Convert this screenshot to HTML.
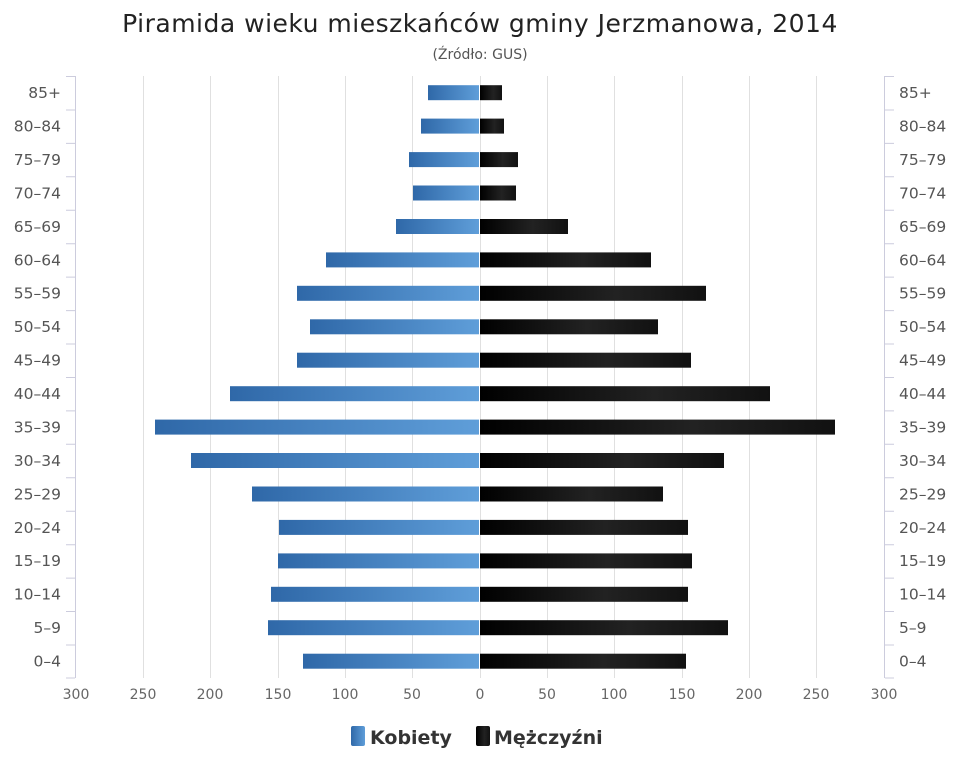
<!DOCTYPE html>
<html><head><meta charset="utf-8"><style>
body{margin:0;background:#fff;width:960px;height:768px;overflow:hidden}
text{font-family:"DejaVu Sans","Liberation Sans",sans-serif}
</style></head><body>
<svg width="960" height="768" viewBox="0 0 960 768" xmlns="http://www.w3.org/2000/svg">
<defs>
<linearGradient id="b" x1="0" y1="0" x2="1" y2="0"><stop offset="0" stop-color="#2f68a8"/><stop offset="1" stop-color="#5f9ed9"/></linearGradient>
<linearGradient id="k" x1="0" y1="0" x2="1" y2="0"><stop offset="0" stop-color="#000"/><stop offset="0.6" stop-color="#222"/><stop offset="1" stop-color="#111"/></linearGradient>
</defs>
<text x="480" y="32" text-anchor="middle" font-size="25" fill="#222" letter-spacing="0.5">Piramida wieku mieszkańców gminy Jerzmanowa, 2014</text>
<text x="480" y="59" text-anchor="middle" font-size="14" fill="#555">(Źródło: GUS)</text>
<g stroke="#e0e0e0" stroke-width="1">
<line x1="143.5" y1="76" x2="143.5" y2="678"/><line x1="210.5" y1="76" x2="210.5" y2="678"/><line x1="278.5" y1="76" x2="278.5" y2="678"/><line x1="345.5" y1="76" x2="345.5" y2="678"/><line x1="412.5" y1="76" x2="412.5" y2="678"/><line x1="480.5" y1="76" x2="480.5" y2="678"/><line x1="547.5" y1="76" x2="547.5" y2="678"/><line x1="614.5" y1="76" x2="614.5" y2="678"/><line x1="682.5" y1="76" x2="682.5" y2="678"/><line x1="749.5" y1="76" x2="749.5" y2="678"/><line x1="816.5" y1="76" x2="816.5" y2="678"/>
</g>
<g stroke="#ccd" stroke-width="1">
<line x1="75.5" y1="76" x2="75.5" y2="678"/><line x1="884.5" y1="76" x2="884.5" y2="678"/>
<path d="M66 76.5H75M66 110H75M66 143.4H75M66 176.8H75M66 210.3H75M66 243.7H75M66 277.1H75M66 310.6H75M66 344H75M66 377.5H75M66 410.9H75M66 444.3H75M66 477.8H75M66 511.2H75M66 544.7H75M66 578.1H75M66 611.5H75M66 645H75M66 678H75"/>
<path d="M885 76.5H894M885 110H894M885 143.4H894M885 176.8H894M885 210.3H894M885 243.7H894M885 277.1H894M885 310.6H894M885 344H894M885 377.5H894M885 410.9H894M885 444.3H894M885 477.8H894M885 511.2H894M885 544.7H894M885 578.1H894M885 611.5H894M885 645H894M885 678H894"/>
</g>
<g fill="url(#b)">
<rect x="428" y="85.2" width="51" height="15"/><rect x="421" y="118.6" width="58" height="15"/><rect x="409" y="152.1" width="70" height="15"/><rect x="413" y="185.5" width="66" height="15"/><rect x="396" y="219" width="83" height="15"/><rect x="326" y="252.4" width="153" height="15"/><rect x="297" y="285.8" width="182" height="15"/><rect x="310" y="319.3" width="169" height="15"/><rect x="297" y="352.7" width="182" height="15"/><rect x="230" y="386.2" width="249" height="15"/><rect x="155" y="419.6" width="324" height="15"/><rect x="191" y="453" width="288" height="15"/><rect x="252" y="486.5" width="227" height="15"/><rect x="279" y="519.9" width="200" height="15"/><rect x="278" y="553.4" width="201" height="15"/><rect x="271" y="586.8" width="208" height="15"/><rect x="268" y="620.2" width="211" height="15"/><rect x="303" y="653.7" width="176" height="15"/>
</g>
<g fill="url(#k)">
<rect x="480" y="85.2" width="22" height="15"/><rect x="480" y="118.6" width="24" height="15"/><rect x="480" y="152.1" width="38" height="15"/><rect x="480" y="185.5" width="36" height="15"/><rect x="480" y="219" width="88" height="15"/><rect x="480" y="252.4" width="171" height="15"/><rect x="480" y="285.8" width="226" height="15"/><rect x="480" y="319.3" width="178" height="15"/><rect x="480" y="352.7" width="211" height="15"/><rect x="480" y="386.2" width="290" height="15"/><rect x="480" y="419.6" width="355" height="15"/><rect x="480" y="453" width="244" height="15"/><rect x="480" y="486.5" width="183" height="15"/><rect x="480" y="519.9" width="208" height="15"/><rect x="480" y="553.4" width="212" height="15"/><rect x="480" y="586.8" width="208" height="15"/><rect x="480" y="620.2" width="248" height="15"/><rect x="480" y="653.7" width="206" height="15"/>
</g>
<g font-size="15.5" fill="#555" text-anchor="end">
<text x="61" y="98">85+</text><text x="61" y="131.5">80–84</text><text x="61" y="165">75–79</text><text x="61" y="198.4">70–74</text><text x="61" y="231.8">65–69</text><text x="61" y="265.3">60–64</text><text x="61" y="298.7">55–59</text><text x="61" y="332.2">50–54</text><text x="61" y="365.6">45–49</text><text x="61" y="399">40–44</text><text x="61" y="432.5">35–39</text><text x="61" y="465.9">30–34</text><text x="61" y="499.4">25–29</text><text x="61" y="532.8">20–24</text><text x="61" y="566.2">15–19</text><text x="61" y="599.7">10–14</text><text x="61" y="633.1">5–9</text><text x="61" y="666.6">0–4</text>
</g>
<g font-size="15.5" fill="#555">
<text x="899" y="98">85+</text><text x="899" y="131.5">80–84</text><text x="899" y="165">75–79</text><text x="899" y="198.4">70–74</text><text x="899" y="231.8">65–69</text><text x="899" y="265.3">60–64</text><text x="899" y="298.7">55–59</text><text x="899" y="332.2">50–54</text><text x="899" y="365.6">45–49</text><text x="899" y="399">40–44</text><text x="899" y="432.5">35–39</text><text x="899" y="465.9">30–34</text><text x="899" y="499.4">25–29</text><text x="899" y="532.8">20–24</text><text x="899" y="566.2">15–19</text><text x="899" y="599.7">10–14</text><text x="899" y="633.1">5–9</text><text x="899" y="666.6">0–4</text>
</g>
<g font-size="14" fill="#666" text-anchor="middle">
<text x="76" y="699">300</text><text x="143" y="699">250</text><text x="210" y="699">200</text><text x="278" y="699">150</text><text x="345" y="699">100</text><text x="412" y="699">50</text><text x="480" y="699">0</text><text x="547" y="699">50</text><text x="614" y="699">100</text><text x="682" y="699">150</text><text x="749" y="699">200</text><text x="816" y="699">250</text><text x="884" y="699">300</text>
</g>
<rect x="351" y="726" width="14" height="20" rx="2" fill="url(#b)"/>
<text x="370" y="744" font-size="19" font-weight="bold" fill="#333">Kobiety</text>
<rect x="476" y="726" width="14" height="20" rx="2" fill="url(#k)"/>
<text x="494" y="744" font-size="19" font-weight="bold" fill="#333">Mężczyźni</text>
</svg>
</body></html>
